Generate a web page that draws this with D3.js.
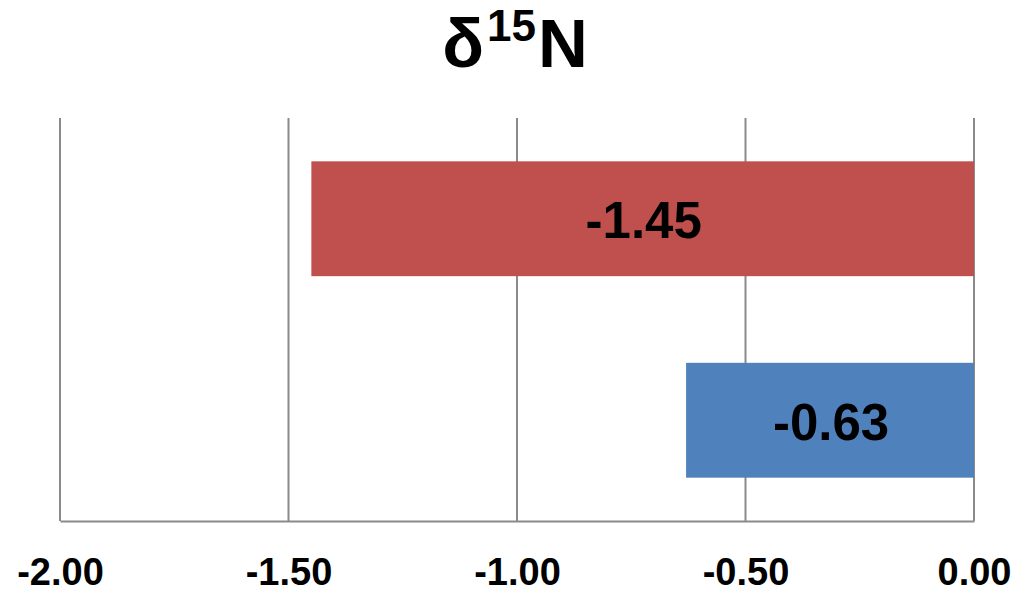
<!DOCTYPE html>
<html>
<head>
<meta charset="utf-8">
<script src="https://cdn.jsdelivr.net/npm/d3@7"></script>
<style>
  html, body { margin: 0; padding: 0; background: #fff; }
  svg { display: block; font-family: "Liberation Sans", Arial, sans-serif; }
</style>
</head>
<body>
<svg id="chart" width="1019" height="592"></svg>
<script>
// δ15N shift per group
const categories = ["Group A", "Group B"];
const values = [-1.45, -0.63];
const barColors = ["#C0504D", "#4F81BD"];
const tickValues = [-2.0, -1.5, -1.0, -0.5, 0.0];

const W = 1019, H = 592;
const margin = { top: 118, right: 45, bottom: 71, left: 60 };
const svg = d3.select("#chart");

const locale = d3.formatLocale({
  decimal: ".", thousands: ",", grouping: [3], currency: ["", ""], minus: "-"
});
const fmt = locale.format(".2f");

const x = d3.scaleLinear()
  .domain([-2, 0])
  .range([margin.left, W - margin.right]);

const y = d3.scaleBand()
  .domain(categories)
  .range([margin.top, H - margin.bottom])
  .paddingInner(0.43)
  .paddingOuter(0.215);

const plotBottom = H - margin.bottom;

// vertical gridlines
svg.append("g")
  .selectAll("line")
  .data(tickValues)
  .join("line")
  .attr("x1", d => x(d)).attr("x2", d => x(d))
  .attr("y1", margin.top).attr("y2", plotBottom)
  .attr("stroke", "#8a8a8a")
  .attr("stroke-width", 2);

// bars
svg.append("g")
  .selectAll("rect")
  .data(values)
  .join("rect")
  .attr("x", d => x(Math.min(0, d)))
  .attr("width", d => Math.abs(x(d) - x(0)))
  .attr("y", (d, i) => y(categories[i]))
  .attr("height", y.bandwidth())
  .attr("fill", (d, i) => barColors[i]);

// value labels
svg.append("g")
  .selectAll("text")
  .data(values)
  .join("text")
  .attr("x", d => (x(d) + x(0)) / 2 + 1)
  .attr("y", (d, i) => y(categories[i]) + y.bandwidth() / 2)
  .attr("dy", "0.38em")
  .attr("text-anchor", "middle")
  .attr("font-size", 51)
  .attr("font-weight", "bold")
  .attr("fill", "#000")
  .text(d => fmt(d));

// x axis
const axis = svg.append("g")
  .attr("transform", `translate(0,${plotBottom})`)
  .call(d3.axisBottom(x).tickValues(tickValues).tickSize(0).tickPadding(37).tickFormat(fmt));
axis.select(".domain")
  .attr("stroke", "#8a8a8a")
  .attr("stroke-width", 2);
axis.selectAll(".tick text")
  .attr("font-family", "Liberation Sans, Arial, sans-serif")
  .attr("font-size", 38)
  .attr("font-weight", "bold")
  .attr("fill", "#000");

// title
const title = svg.append("text")
  .attr("x", 515)
  .attr("y", 67)
  .attr("text-anchor", "middle")
  .attr("font-size", 69)
  .attr("font-weight", "bold")
  .attr("fill", "#000");
title.append("tspan").text("δ");
title.append("tspan").attr("font-size", 44).attr("dx", 3).attr("dy", -26).text("15");
title.append("tspan").attr("dx", 2).attr("dy", 26).text("N");
</script>
</body>
</html>
